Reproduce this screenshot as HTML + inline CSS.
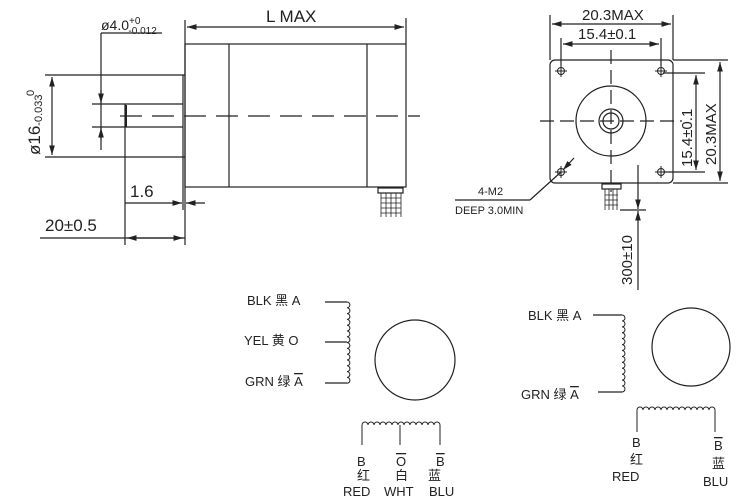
<!DOCTYPE html>
<html><head><meta charset="utf-8"><style>
html,body{margin:0;padding:0;background:#fff}
svg{display:block}
text{font-family:"Liberation Sans","Noto Sans CJK SC",sans-serif;fill:#222}
.ov{text-decoration:overline}
</style></head><body>
<svg width="740" height="500" viewBox="0 0 740 500" xmlns="http://www.w3.org/2000/svg">
<defs>
<marker id="a" viewBox="0 0 10 6" refX="10" refY="3" markerWidth="8" markerHeight="5" orient="auto-start-reverse"><path d="M0,0L10,3L0,6z" fill="#222"/></marker>
</defs>
<g stroke="#222" stroke-width="1.2" fill="none">
<rect x="185" y="44" width="221" height="143"/>
<line x1="229" y1="44" x2="229" y2="187"/>
<line x1="367" y1="44" x2="367" y2="187"/>
<line x1="185" y1="20" x2="185" y2="245"/>
<line x1="183" y1="75" x2="183" y2="210"/>
<line x1="406" y1="18" x2="406" y2="44"/>
<line x1="187" y1="27" x2="404" y2="27" marker-start="url(#a)" marker-end="url(#a)"/>
<line x1="45" y1="75" x2="185" y2="75"/>
<line x1="45" y1="157" x2="185" y2="157"/>
<line x1="52" y1="77" x2="52" y2="155" marker-start="url(#a)" marker-end="url(#a)"/>
<line x1="92" y1="104" x2="183" y2="104"/>
<line x1="92" y1="127" x2="183" y2="127"/>
<line x1="125" y1="104" x2="125" y2="245"/>
<line x1="126" y1="105" x2="126" y2="127" stroke-width="2"/>
<line x1="101" y1="33" x2="101" y2="150"/>
<line x1="101" y1="90" x2="101" y2="103" marker-end="url(#a)"/>
<line x1="101" y1="140" x2="101" y2="128" marker-end="url(#a)"/>
<line x1="101" y1="33" x2="162" y2="33"/>
<line x1="120" y1="116" x2="420" y2="116" stroke-dasharray="22,10"/>
<line x1="125" y1="203" x2="182" y2="203" marker-end="url(#a)"/>
<line x1="205" y1="203" x2="186" y2="203" marker-end="url(#a)"/>
<line x1="40" y1="238" x2="185" y2="238"/>
<line x1="127" y1="238" x2="183" y2="238" marker-start="url(#a)" marker-end="url(#a)"/>
<rect x="378" y="188" width="25" height="5"/>
<path d="M381,193v24M386,193v24M391,193v24M396,193v24M401,193v24M381,198h20M381,203h20M381,208h20M381,213h20" stroke-width="0.8"/>
<rect x="550" y="60" width="123" height="123" rx="5"/>
<circle cx="611" cy="121" r="35"/>
<circle cx="611" cy="121" r="12"/>
<circle cx="611" cy="121" r="8"/>
<line x1="540" y1="121" x2="682" y2="121" stroke-dasharray="14,6"/>
<line x1="611" y1="50" x2="611" y2="192" stroke-dasharray="14,6"/>
<g stroke-width="1">
<circle cx="561" cy="71" r="3.5"/><circle cx="661" cy="71" r="3.5"/><circle cx="561" cy="172" r="3.5"/><circle cx="661" cy="172" r="3.5"/>
<path d="M555,71h12M561,65v12M655,71h12M661,65v12M555,172h12M561,166v12M655,172h12M661,166v12"/>
</g>
<line x1="550" y1="15" x2="550" y2="60"/>
<line x1="673" y1="15" x2="673" y2="60"/>
<line x1="552" y1="24" x2="671" y2="24" marker-start="url(#a)" marker-end="url(#a)"/>
<line x1="561" y1="38" x2="561" y2="66"/>
<line x1="661" y1="38" x2="661" y2="66"/>
<line x1="563" y1="44" x2="659" y2="44" marker-start="url(#a)" marker-end="url(#a)"/>
<line x1="663" y1="73" x2="705" y2="73"/>
<line x1="663" y1="172" x2="705" y2="172"/>
<line x1="696" y1="75" x2="696" y2="170" marker-start="url(#a)" marker-end="url(#a)"/>
<line x1="673" y1="60" x2="728" y2="60"/>
<line x1="673" y1="183" x2="728" y2="183"/>
<line x1="720" y1="62" x2="720" y2="181" marker-start="url(#a)" marker-end="url(#a)"/>
<rect x="602" y="184" width="19" height="5"/>
<path d="M605,189v21M609,189v21M613,189v21M617,189v21M605,195h13M605,200h13M605,205h13" stroke-width="0.8"/>
<line x1="620" y1="210" x2="646" y2="210"/>
<line x1="638" y1="165" x2="638" y2="209" marker-end="url(#a)"/>
<line x1="638" y1="290" x2="638" y2="211" marker-end="url(#a)"/>
<line x1="574" y1="158" x2="563" y2="170" marker-end="url(#a)"/>
<line x1="561" y1="172" x2="530" y2="200"/>
<line x1="530" y1="200" x2="455" y2="200"/>
<path d="M325,302H347"/><path d="M325,342H347"/><path d="M325,383H347"/>
<path d="M347,302a2.9,2.9 0 0 1 0,5.8a2.9,2.9 0 0 1 0,5.8a2.9,2.9 0 0 1 0,5.8a2.9,2.9 0 0 1 0,5.8a2.9,2.9 0 0 1 0,5.8a2.9,2.9 0 0 1 0,5.8a2.9,2.9 0 0 1 0,5.8a2.9,2.9 0 0 1 0,5.8a2.9,2.9 0 0 1 0,5.8a2.9,2.9 0 0 1 0,5.8a2.9,2.9 0 0 1 0,5.8a2.9,2.9 0 0 1 0,5.8a2.9,2.9 0 0 1 0,5.8a2.9,2.9 0 0 1 0,5.8" stroke-width="1"/>
<circle cx="415" cy="360" r="40"/>
<path d="M362,445V425a3,3 0 0 1 6,0a3,3 0 0 1 6,0a3,3 0 0 1 6,0a3,3 0 0 1 6,0a3,3 0 0 1 6,0a3,3 0 0 1 6,0a3,3 0 0 1 6,0a3,3 0 0 1 6,0a3,3 0 0 1 6,0a3,3 0 0 1 6,0a3,3 0 0 1 6,0a3,3 0 0 1 6,0a3,3 0 0 1 6,0V445" stroke-width="1"/>
<line x1="400" y1="425" x2="400" y2="445" stroke-width="1"/>
<path d="M593,315H622"/><path d="M598,392H622"/>
<path d="M622,315a2.96,2.96 0 0 1 0,5.92a2.96,2.96 0 0 1 0,5.92a2.96,2.96 0 0 1 0,5.92a2.96,2.96 0 0 1 0,5.92a2.96,2.96 0 0 1 0,5.92a2.96,2.96 0 0 1 0,5.92a2.96,2.96 0 0 1 0,5.92a2.96,2.96 0 0 1 0,5.92a2.96,2.96 0 0 1 0,5.92a2.96,2.96 0 0 1 0,5.92a2.96,2.96 0 0 1 0,5.92a2.96,2.96 0 0 1 0,5.92a2.96,2.96 0 0 1 0,5.92" stroke-width="1"/>
<circle cx="691" cy="347" r="39"/>
<path d="M637,432V410a3,3 0 0 1 6,0a3,3 0 0 1 6,0a3,3 0 0 1 6,0a3,3 0 0 1 6,0a3,3 0 0 1 6,0a3,3 0 0 1 6,0a3,3 0 0 1 6,0a3,3 0 0 1 6,0a3,3 0 0 1 6,0a3,3 0 0 1 6,0a3,3 0 0 1 6,0a3,3 0 0 1 6,0a3,3 0 0 1 6,0V432" stroke-width="1"/>
</g>
<g font-size="17">
<text x="266" y="22">L  MAX</text>
<text x="130" y="197">1.6</text>
<text x="45" y="231">20±0.5</text>
<text transform="translate(40,155) rotate(-90)">ø16<tspan font-size="11" dy="2">-0.033</tspan></text>
<text transform="translate(692,167) rotate(-90)" font-size="15">15.4±0.1</text>
<text transform="translate(716,165) rotate(-90)" font-size="15">20.3MAX</text>
<text x="582" y="20" font-size="15">20.3MAX</text>
<text x="578" y="39" font-size="15">15.4±0.1</text>
<text transform="translate(632,285) rotate(-90)" font-size="15">300±10</text>
</g>
<text transform="translate(34,96) rotate(-90)" font-size="11">0</text>
<text x="101" y="30" font-size="14">ø4.0<tspan font-size="10" dy="-6">+0</tspan><tspan font-size="10" dx="-12" dy="10">-0.012</tspan></text>
<text x="478" y="195" font-size="11">4-M2</text>
<text x="455" y="214" font-size="11">DEEP 3.0MIN</text>
<g font-size="13">
<text x="247" y="305">BLK 黑 A</text>
<text x="244" y="345">YEL 黄 O</text>
<text x="245" y="386">GRN 绿 <tspan class="ov">A</tspan></text>
<text x="357" y="466">B</text><text x="357" y="480">红</text><text x="343" y="496">RED</text>
<text x="396" y="466" class="ov">O</text><text x="395" y="480">白</text><text x="384" y="496">WHT</text>
<text x="436" y="466" class="ov">B</text><text x="428" y="480">蓝</text><text x="429" y="496">BLU</text>
<text x="528" y="320">BLK 黑 A</text>
<text x="521" y="399">GRN 绿 <tspan class="ov">A</tspan></text>
<text x="632" y="447">B</text><text x="630" y="464">红</text><text x="612" y="481">RED</text>
<text x="714" y="450" class="ov">B</text><text x="712" y="468">蓝</text><text x="703" y="486">BLU</text>
</g>
</svg>
</body></html>
